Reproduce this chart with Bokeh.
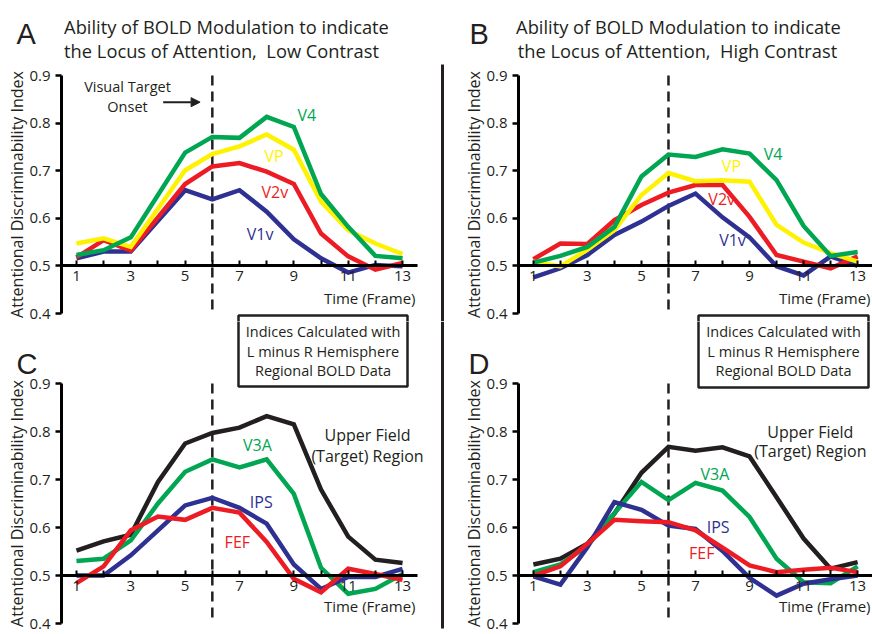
from bokeh.plotting import figure
from bokeh.models import Range1d, FixedTicker, Label, Arrow, NormalHead, BoxAnnotation
from bokeh.layouts import column, row
from bokeh.embed import file_html
from bokeh.resources import INLINE

frames = list(range(1, 14))

# Panel A: low contrast
a_v4 = [0.523, 0.533, 0.560, 0.649, 0.738, 0.771, 0.769, 0.813, 0.792, 0.651, 0.582, 0.521, 0.516]
a_vp = [0.547, 0.558, 0.540, 0.620, 0.701, 0.735, 0.751, 0.776, 0.744, 0.635, 0.575, 0.547, 0.525]
a_v2v = [0.518, 0.554, 0.532, 0.602, 0.672, 0.709, 0.716, 0.698, 0.672, 0.568, 0.520, 0.492, 0.506]
a_v1v = [0.516, 0.530, 0.530, 0.595, 0.659, 0.640, 0.659, 0.614, 0.556, 0.516, 0.486, 0.502, 0.499]

# Panel B: high contrast
b_v4 = [0.507, 0.521, 0.540, 0.582, 0.688, 0.734, 0.729, 0.745, 0.736, 0.680, 0.584, 0.521, 0.529]
b_vp = [0.509, 0.499, 0.534, 0.575, 0.649, 0.695, 0.678, 0.680, 0.677, 0.586, 0.549, 0.527, 0.509]
b_v2v = [0.514, 0.547, 0.546, 0.596, 0.628, 0.654, 0.670, 0.670, 0.603, 0.523, 0.509, 0.495, 0.520]
b_v1v = [0.476, 0.495, 0.523, 0.565, 0.593, 0.626, 0.652, 0.602, 0.560, 0.499, 0.480, 0.520, 0.500]

# Panel C: low contrast, higher areas
c_upper = [0.552, 0.571, 0.585, 0.695, 0.775, 0.797, 0.808, 0.832, 0.815, 0.679, 0.581, 0.533, 0.526]
c_v3a = [0.530, 0.535, 0.573, 0.650, 0.716, 0.742, 0.725, 0.742, 0.670, 0.516, 0.462, 0.472, 0.503]
c_ips = [0.500, 0.500, 0.542, 0.594, 0.646, 0.662, 0.641, 0.608, 0.523, 0.472, 0.497, 0.497, 0.514]
c_fef = [0.484, 0.519, 0.594, 0.623, 0.616, 0.641, 0.631, 0.570, 0.493, 0.465, 0.514, 0.503, 0.491]

# Panel D: high contrast, higher areas
d_upper = [0.523, 0.535, 0.566, 0.629, 0.714, 0.768, 0.760, 0.767, 0.748, 0.663, 0.577, 0.514, 0.528]
d_v3a = [0.507, 0.523, 0.562, 0.630, 0.695, 0.657, 0.693, 0.677, 0.622, 0.535, 0.486, 0.484, 0.519]
d_ips = [0.498, 0.481, 0.559, 0.653, 0.637, 0.604, 0.597, 0.551, 0.495, 0.458, 0.483, 0.492, 0.500]
d_fef = [0.499, 0.519, 0.566, 0.616, 0.613, 0.611, 0.594, 0.558, 0.521, 0.507, 0.512, 0.516, 0.507]

y_ticks = [0.4, 0.5, 0.6, 0.7, 0.8, 0.9]
x_tick_labels = {i: (str(i) if i % 2 == 1 else "") for i in frames}
onset_frame = 6

GREEN = "#00a651"
YELLOW = "#fff200"
RED = "#ed1c24"
BLUE = "#2e3192"
BLACK = "#231f20"
FONT = "Open Sans"
NB = "\u00a0"

X0, X1 = 0.45, 13.55
Y0, Y1 = 0.4, 0.9


class Panel:
    """A figure whose frame is the whole canvas; axes are pinned inside it."""

    def __init__(self, w, h, bl, br, bt, bb):
        fw = w - bl - br
        fh = h - bt - bb
        self.ppx = fw / (X1 - X0)
        self.ppy = fh / (Y1 - Y0)
        xr = Range1d(X0 - bl / self.ppx, X1 + br / self.ppx)
        yr = Range1d(Y0 - bb / self.ppy, Y1 + bt / self.ppy)
        self.xs = xr.start
        self.ye = yr.end
        p = figure(width=w, height=h, output_backend="svg", toolbar_location=None,
                   x_range=xr, y_range=yr, min_border=0,
                   min_border_left=0, min_border_right=0,
                   min_border_top=0, min_border_bottom=0)
        p.outline_line_color = None
        p.grid.visible = False
        p.background_fill_color = "white"
        p.border_fill_color = "white"
        xa = p.xaxis[0]
        xa.fixed_location = 0.5
        xa.bounds = (X0, X1)
        xa.ticker = FixedTicker(ticks=frames)
        xa.major_label_overrides = x_tick_labels
        xa.minor_tick_line_color = None
        xa.axis_line_width = 3
        xa.axis_line_color = "black"
        xa.major_tick_in = 5
        xa.major_tick_out = 0
        xa.major_tick_line_width = 2
        xa.major_tick_line_color = "black"
        xa.major_label_standoff = 5
        xa.major_label_text_font = FONT
        xa.major_label_text_font_size = "15px"
        xa.major_label_text_color = BLACK
        ya = p.yaxis[0]
        ya.fixed_location = X0
        ya.bounds = (Y0, Y1)
        ya.ticker = FixedTicker(ticks=y_ticks)
        ya.minor_tick_line_color = None
        ya.axis_line_width = 3
        ya.axis_line_color = "black"
        ya.major_tick_in = 0
        ya.major_tick_out = 6
        ya.major_tick_line_width = 2.5
        ya.major_tick_line_color = "black"
        ya.major_label_standoff = 5
        ya.major_label_text_font = FONT
        ya.major_label_text_font_size = "15px"
        ya.major_label_text_color = BLACK
        ya.axis_label = "Attentional Discriminability Index"
        ya.axis_label_text_font = FONT
        ya.axis_label_text_font_size = "16px"
        ya.axis_label_text_font_style = "normal"
        ya.axis_label_text_color = BLACK
        ya.axis_label_standoff = -2
        self.p = p

    def dx(self, px):
        return self.xs + px / self.ppx

    def dy(self, py):
        return self.ye - py / self.ppy

    def text(self, px, py, txt, size="15px", color=BLACK, align="left", baseline="middle", font=FONT):
        self.p.add_layout(Label(x=self.dx(px), y=self.dy(py), text=txt, text_font=font,
                                text_font_size=size, text_color=color, text_align=align,
                                text_baseline=baseline))

    def dtext(self, x, y, txt, color, size="16px"):
        self.p.add_layout(Label(x=x, y=y, text=txt, text_font=FONT, text_font_size=size,
                                text_color=color, text_align="center", text_baseline="middle"))

    def series(self, ys, color):
        self.p.line(frames, ys, line_color=color, line_width=4.5, line_join="miter")

    def onset(self):
        self.p.segment(x0=[onset_frame], y0=[Y1], x1=[onset_frame], y1=[Y0],
                       line_color=BLACK, line_width=2.5, line_dash="10 6")

    def sep(self, px, py0, py1):
        self.p.segment(x0=[self.dx(px)], y0=[self.dy(py0)], x1=[self.dx(px)], y1=[self.dy(py1)],
                       line_color=BLACK, line_width=3)

    def rect(self, px0, py0, px1, py1):
        self.p.add_layout(BoxAnnotation(left=self.dx(px0), right=self.dx(px1),
                                        top=self.dy(py0), bottom=self.dy(py1),
                                        line_color=BLACK, line_width=2.5, line_alpha=1,
                                        fill_color="white", fill_alpha=1))


TITLE_1 = "Ability of BOLD Modulation to indicate"
TITLE_A = "the Locus of Attention," + NB + NB + "Low Contrast"
TITLE_B = "the Locus of Attention," + NB + NB + "High Contrast"
BOX_LINES = ["Indices Calculated with", "L minus R Hemisphere", "Regional BOLD Data"]

TOP_H = 321

# ---- Panel A ----
A = Panel(436, TOP_H, 61, 19, 75, 8)
A.onset()
A.series(a_v1v, BLUE)
A.series(a_v2v, RED)
A.series(a_vp, YELLOW)
A.series(a_v4, GREEN)
A.rect(238, 315, 407, 386)  # top part of panel C's note box
A.text(16, 33, "A", size="29px", baseline="alphabetic", font="Liberation Sans")
A.text(226, 26, TITLE_1, size="18.3px", align="center")
A.text(221, 50, TITLE_A, size="18.3px", align="center")
A.text(127, 86, "Visual Target", size="14.5px", align="center")
A.text(127, 106, "Onset", size="14.5px", align="center")
A.p.add_layout(Arrow(end=NormalHead(size=9, fill_color=BLACK, line_color=BLACK),
                     x_start=4.19, y_start=0.844, x_end=5.55, y_end=0.844,
                     line_color=BLACK, line_width=2))
A.text(415, 297, "Time (Frame)", align="right")
A.dtext(9.48, 0.816, "V4", GREEN)
A.dtext(8.27, 0.730, "VP", YELLOW)
A.dtext(8.3, 0.656, "V2v", RED)
A.dtext(7.76, 0.566, "V1v", BLUE)

# ---- Panel B ----
B = Panel(436, TOP_H, 82, 0, 75, 8)
B.sep(6, 64, 321)
B.onset()
B.series(b_v1v, BLUE)
B.series(b_v2v, RED)
B.series(b_vp, YELLOW)
B.series(b_v4, GREEN)
B.rect(262, 315, 432, 387)  # top part of panel D's note box
B.text(33, 33, "B", size="29px", baseline="alphabetic", font="Liberation Sans")
B.text(242, 26, TITLE_1, size="18.3px", align="center")
B.text(241, 50, TITLE_B, size="18.3px", align="center")
B.text(434, 297, "Time (Frame)", align="right")
B.dtext(9.87, 0.735, "V4", GREEN)
B.dtext(8.33, 0.710, "VP", YELLOW)
B.dtext(7.97, 0.640, "V2v", RED)
B.dtext(8.37, 0.554, "V1v", BLUE)

# ---- Panel C ----
C = Panel(436, 313, 61, 19, 62, 11)
C.onset()
C.series(c_upper, BLACK)
C.series(c_v3a, GREEN)
C.series(c_ips, BLUE)
C.series(c_fef, RED)
C.text(16, 42, "C", size="29px", baseline="alphabetic", font="Liberation Sans")
C.rect(238, 315 - TOP_H, 407, 386 - TOP_H)
for i, line in enumerate(BOX_LINES):
    C.text(322.5, 331 - TOP_H + 19.5 * i, line, size="14.5px", align="center")
C.text(415, 284, "Time (Frame)", align="right")
C.dtext(11.71, 0.792, "Upper Field", BLACK)
C.dtext(11.71, 0.750, "(Target) Region", BLACK)
C.dtext(7.66, 0.771, "V3A", GREEN)
C.dtext(7.8, 0.653, "IPS", BLUE)
C.dtext(6.92, 0.570, "FEF", RED)

# ---- Panel D ----
D = Panel(436, 313, 82, 0, 62, 11)
D.sep(6, 0, 307)
D.onset()
D.series(d_upper, BLACK)
D.series(d_v3a, GREEN)
D.series(d_ips, BLUE)
D.series(d_fef, RED)
D.text(32, 42, "D", size="29px", baseline="alphabetic", font="Liberation Sans")
D.rect(262, 315 - TOP_H, 432, 387 - TOP_H)
for i, line in enumerate(BOX_LINES):
    D.text(347, 331 - TOP_H + 19.5 * i, line, size="14.5px", align="center")
D.text(434, 284, "Time (Frame)", align="right")
D.dtext(11.25, 0.799, "Upper Field", BLACK)
D.dtext(11.25, 0.759, "(Target) Region", BLACK)
D.dtext(7.72, 0.712, "V3A", GREEN)
D.dtext(7.84, 0.601, "IPS", BLUE)
D.dtext(7.23, 0.547, "FEF", RED)

layout = column(row(A.p, B.p, spacing=0), row(C.p, D.p, spacing=0), spacing=0)

open("out.html", "w").write(file_html(layout, INLINE))
